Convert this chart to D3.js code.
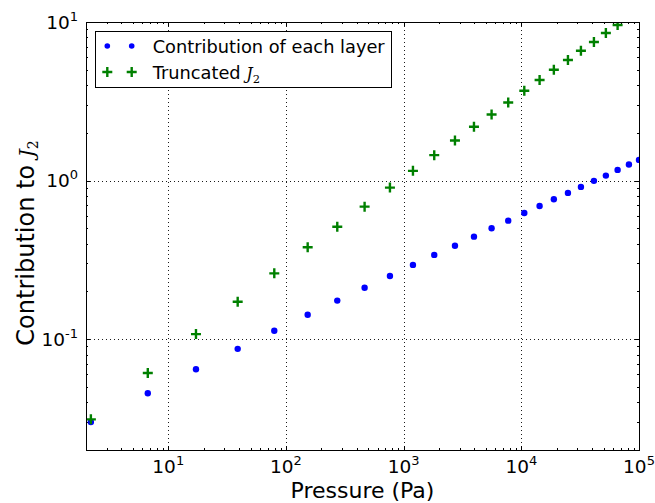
<!DOCTYPE html>
<html>
<head>
<meta charset="utf-8">
<script src="https://cdn.jsdelivr.net/npm/d3@7"></script>
<style>
body { margin: 0; background: #fff; }
text { font-family: "DejaVu Sans", sans-serif; fill: #000; }
</style>
</head>
<body>
<div id="chart"></div>
<script>
// data
var pressure = [2.2, 6.7, 17.2, 38.9, 79.6, 153, 273, 466, 765, 1200, 1820, 2730, 3960, 5590, 7740,
                10600, 14300, 18900, 24900, 32100, 41400, 52300, 65800, 82100, 100000];
var layerContribution = [0.030, 0.0456, 0.0646, 0.0869, 0.113, 0.1425, 0.175, 0.211, 0.250, 0.294, 0.340,
                         0.388, 0.443, 0.500, 0.559, 0.625, 0.692, 0.763, 0.836, 0.912, 0.996, 1.075,
                         1.168, 1.262, 1.35];
var truncatedJ2 = [0.0312, 0.0612, 0.1076, 0.172, 0.260, 0.380, 0.512, 0.685, 0.903, 1.152, 1.447,
                   1.789, 2.184, 2.612, 3.110, 3.687, 4.306, 5.003, 5.763, 6.59, 7.48, 8.53, 9.58];
var xTickExps = [1, 2, 3, 4, 5];
var yTickExps = [-1, 0, 1];
var seriesNames = ["Contribution of each layer", "Truncated "];

var svgWidth = 655;
var svgHeight = 503;
var margin = {top: 22, right: 16, bottom: 53, left: 86};
var width = svgWidth - margin.left - margin.right;
var height = svgHeight - margin.top - margin.bottom;

var svg = d3.select("#chart")
  .append("svg")
  .attr("width", svgWidth)
  .attr("height", svgHeight);

svg.append("defs").append("clipPath").attr("id", "clip")
  .append("rect").attr("width", width).attr("height", height);

var chartGroup = svg.append("g")
  .attr("transform", "translate(" + margin.left + "," + margin.top + ")");

var xScale = d3.scaleLog().domain([2, 1e5]).range([0, width]);
var yScale = d3.scaleLog().domain([0.02, 10]).range([height, 0]);

// minor tick values
var xMinor = [], yMinor = [];
for (var e = 0; e <= 4; e++) for (var m = 2; m <= 9; m++) {
  var v = m * Math.pow(10, e);
  if (v >= 2 && v <= 1e5) xMinor.push(v);
}
for (var e2 = -2; e2 <= 0; e2++) for (var m2 = 2; m2 <= 9; m2++) {
  var v2 = m2 * Math.pow(10, e2);
  if (v2 >= 0.02 && v2 <= 10) yMinor.push(v2);
}
var xMajor = xTickExps.map(function(d) { return Math.pow(10, d); });
var yMajor = yTickExps.map(function(d) { return Math.pow(10, d); });

// grid
chartGroup.selectAll(".gx").data(xMajor.slice(0, -1)).enter().append("line")
  .attr("x1", d => Math.round(xScale(d)) + 0.5).attr("x2", d => Math.round(xScale(d)) + 0.5)
  .attr("y1", 0).attr("y2", height)
  .attr("stroke", "#000").attr("stroke-width", 0.9).attr("stroke-dasharray", "1,3");
chartGroup.selectAll(".gy").data(yMajor.slice(0, -1)).enter().append("line")
  .attr("y1", d => Math.round(yScale(d)) + 0.5).attr("y2", d => Math.round(yScale(d)) + 0.5)
  .attr("x1", 0).attr("x2", width)
  .attr("stroke", "#000").attr("stroke-width", 0.9).attr("stroke-dasharray", "1,3");

// inward ticks on all four sides
function tickLines(vals, len) {
  vals.forEach(function(d) {
    var x = Math.round(xScale(d)) + 0.5;
    chartGroup.append("line").attr("x1", x).attr("x2", x).attr("y1", height).attr("y2", height - len).attr("stroke", "#000");
    chartGroup.append("line").attr("x1", x).attr("x2", x).attr("y1", 0).attr("y2", len).attr("stroke", "#000");
  });
}
function tickLinesY(vals, len) {
  vals.forEach(function(d) {
    var y = Math.round(yScale(d)) + 0.5;
    chartGroup.append("line").attr("y1", y).attr("y2", y).attr("x1", 0).attr("x2", len).attr("stroke", "#000");
    chartGroup.append("line").attr("y1", y).attr("y2", y).attr("x1", width).attr("x2", width - len).attr("stroke", "#000");
  });
}
tickLines(xMajor, 4);
tickLines(xMinor, 2);
tickLinesY(yMajor, 4);
tickLinesY(yMinor, 2);

// tick labels
chartGroup.selectAll(".xl").data(xTickExps).enter().append("text")
  .attr("x", d => xScale(Math.pow(10, d)))
  .attr("y", height + 23)
  .attr("text-anchor", "middle")
  .style("font-size", "18.5px")
  .each(function(d) {
    var t = d3.select(this);
    t.append("tspan").text("10");
    t.append("tspan").attr("dy", -8).style("font-size", "13px").text(d);
  });
chartGroup.selectAll(".yl").data(yTickExps).enter().append("text")
  .attr("x", -8)
  .attr("y", d => yScale(Math.pow(10, d)) + 6.5)
  .attr("text-anchor", "end")
  .style("font-size", "18.5px")
  .each(function(d) {
    var t = d3.select(this);
    t.append("tspan").text("10");
    t.append("tspan").attr("dy", -8).style("font-size", "13px").text(d);
  });

// markers
var plot = chartGroup.append("g").attr("clip-path", "url(#clip)");
plot.selectAll(".dot").data(layerContribution).enter().append("circle")
  .attr("cx", (d, i) => xScale(pressure[i]))
  .attr("cy", d => yScale(d))
  .attr("r", 3.2)
  .attr("fill", "#0000ff");

function cross(g, x, y) {
  g.append("path")
    .attr("d", "M" + (x - 5) + "," + y + "H" + (x + 5) + "M" + x + "," + (y - 5) + "V" + (y + 5))
    .attr("stroke", "#008000").attr("stroke-width", 2.4).attr("fill", "none");
}
truncatedJ2.forEach(function(d, i) { cross(plot, xScale(pressure[i]), yScale(d)); });

// frame
chartGroup.append("rect")
  .attr("x", 0.5).attr("y", 0.5).attr("width", width).attr("height", height)
  .attr("fill", "none").attr("stroke", "#000").attr("stroke-width", 1);

// legend
var legend = chartGroup.append("g").attr("transform", "translate(9,9)");
legend.append("rect")
  .attr("x", 0.5).attr("y", 0.5).attr("width", 296).attr("height", 56)
  .attr("fill", "#fff").attr("stroke", "#000").attr("stroke-width", 1);
[12.3, 36.7].forEach(function(x) {
  legend.append("circle").attr("cx", x).attr("cy", 15).attr("r", 2.8).attr("fill", "#0000ff");
  cross(legend, x, 41);
});
legend.append("text").attr("x", 57.7).attr("y", 21.5).style("font-size", "17.8px").text(seriesNames[0]);
var lt = legend.append("text").attr("x", 57.7).attr("y", 47.5).style("font-size", "17.8px");
lt.append("tspan").text(seriesNames[1]);
lt.append("tspan").style("font-family", "'DejaVu Serif', serif").style("font-style", "italic").style("font-size", "16px").text("J");
lt.append("tspan").attr("dy", 4).style("font-family", "'DejaVu Serif', serif").style("font-size", "11.5px").text("2");

// axis labels
svg.append("text")
  .attr("x", margin.left + width / 2)
  .attr("y", 498)
  .attr("text-anchor", "middle")
  .style("font-size", "22px")
  .text("Pressure (Pa)");

var yl = svg.append("text")
  .attr("transform", "translate(34,243) rotate(-90)")
  .attr("text-anchor", "middle")
  .style("font-size", "24px");
yl.append("tspan").text("Contribution to ");
yl.append("tspan").style("font-family", "'DejaVu Serif', serif").style("font-style", "italic").style("font-size", "20px").text("J");
yl.append("tspan").attr("dy", 4).style("font-family", "'DejaVu Serif', serif").style("font-size", "14px").text("2");
</script>
</body>
</html>
